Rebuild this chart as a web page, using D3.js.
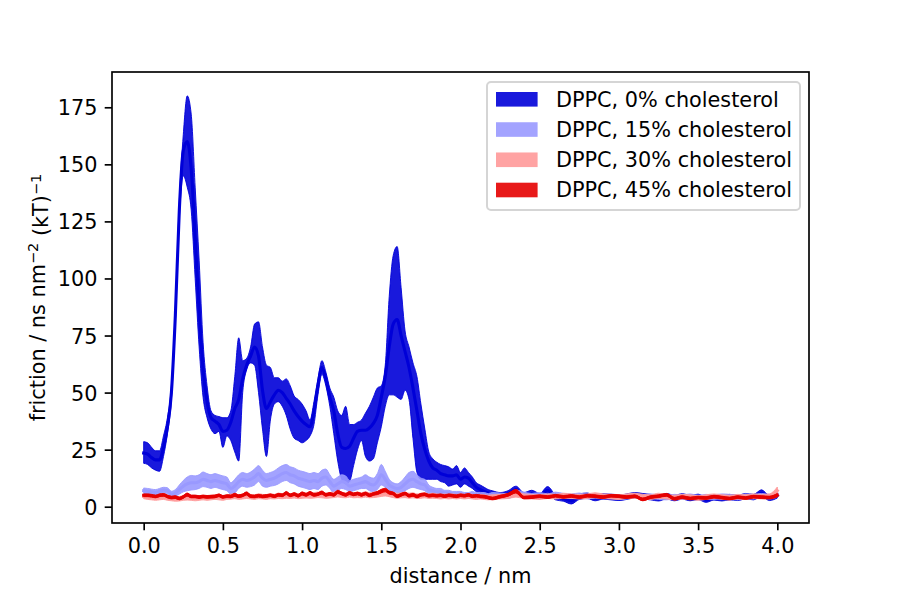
<!DOCTYPE html>
<html>
<head>
<meta charset="utf-8">
<script src="https://cdn.jsdelivr.net/npm/d3@7"></script>
<style>
  body { margin: 0; background: #fff; }
  text { font-family: "DejaVu Sans", sans-serif; }
</style>
</head>
<body>
<script>
// distance grid (nm)
var distance = [
  0, 0.025, 0.05, 0.075, 0.1, 0.125, 0.15, 0.175, 0.2, 0.225,
  0.25, 0.275, 0.3, 0.325, 0.35, 0.375, 0.4, 0.425, 0.45, 0.475,
  0.5, 0.525, 0.55, 0.575, 0.6, 0.625, 0.65, 0.675, 0.7, 0.725,
  0.75, 0.775, 0.8, 0.825, 0.85, 0.875, 0.9, 0.925, 0.95, 0.975,
  1.0, 1.025, 1.05, 1.075, 1.1, 1.125, 1.15, 1.175, 1.2, 1.225,
  1.25, 1.275, 1.3, 1.325, 1.35, 1.375, 1.4, 1.425, 1.45, 1.475,
  1.5, 1.525, 1.55, 1.575, 1.6, 1.625, 1.65, 1.675, 1.7, 1.725,
  1.75, 1.775, 1.8, 1.825, 1.85, 1.875, 1.9, 1.925, 1.95, 1.975,
  2.0, 2.025, 2.05, 2.075, 2.1, 2.125, 2.15, 2.175, 2.2,
  2.25, 2.3, 2.35, 2.4, 2.45, 2.5, 2.55, 2.6, 2.65, 2.7,
  2.75, 2.8, 2.85, 2.9, 2.95, 3.0, 3.05, 3.1, 3.15, 3.2,
  3.25, 3.3, 3.35, 3.4, 3.45, 3.5, 3.55, 3.6, 3.65, 3.7,
  3.75, 3.8, 3.85, 3.9, 3.95, 4.0
];

// DPPC, 0% cholesterol: mean with lower / upper band
var mean0 = [
  23.5, 23, 21.5, 20.5, 20.5, 26, 35, 50, 84, 130,
  156, 160, 148, 118, 86, 60, 46, 39, 37.5, 36,
  33, 33.5, 37, 43, 47, 56, 62, 66, 70, 66,
  51, 43, 46, 49, 51, 50, 47.5, 45, 42, 39.5,
  37.5, 36, 35, 42, 53, 61, 56, 48, 42, 32,
  26, 25.5, 26.5, 30, 33, 33.5, 33.5, 34.5, 36.5, 40,
  48, 57, 70, 80, 82, 75, 68, 61, 52, 42,
  32, 25, 20, 17, 16, 14.5, 14, 13.5, 13.5, 14,
  12, 13, 12.5, 10.5, 8.5, 7.5, 6.7, 6, 5.5,
  5, 5.6, 7.5, 5, 5.8, 4.6, 7.2, 4.2, 3.6, 2.5,
  4.4, 4.8, 3.8, 4.5, 4.2, 3.8, 4.4, 5, 4.6, 4.2,
  3.6, 4.6, 3.8, 4.5, 3.8, 4.3, 3, 4, 3.6, 4.2,
  3.8, 4.6, 4.2, 6, 3.8, 5
];
var lower0 = [
  19, 18.5, 17, 16, 15.5, 22, 32, 47, 81, 126,
  145, 140, 130, 100, 70, 48, 39, 34, 32, 33,
  26, 31, 29, 24, 20, 50, 60, 63, 62, 50,
  34, 22, 38, 45, 46, 44, 40, 34, 30, 29,
  28, 29, 31, 36, 49, 58, 53, 44, 32, 20,
  12, 10, 11, 18, 25, 29, 22, 20, 21, 28,
  35, 44, 49, 49, 48, 47, 51, 47, 30, 15,
  12, 12, 12, 12, 12, 11, 10.5, 9, 9.5, 10,
  8.5, 10, 9, 8, 6.5, 5.5, 5, 4.5, 4,
  3.8, 4.2, 5.8, 3.8, 4.4, 3.4, 5.6, 3, 2.4, 1.2,
  3.2, 3.6, 2.6, 3.3, 3, 2.7, 3.2, 3.8, 3.4, 3,
  2.5, 3.4, 2.6, 3.3, 2.6, 3.1, 1.9, 2.9, 2.5, 3,
  2.7, 3.4, 3, 4.6, 2.7, 3.8
];
var upper0 = [
  28.5, 28, 26, 24.5, 24.5, 31, 39, 53, 87, 134,
  163, 180, 172, 140, 108, 72, 53, 42, 40, 39.5,
  39, 39, 42, 57, 74, 64, 65, 70, 80, 81,
  70, 62, 61, 56.5, 56.5, 55, 56, 53, 48.5, 47,
  45, 42, 38, 46, 56, 64, 59, 52, 48, 42,
  40, 44, 36, 36, 37, 38, 41, 44, 48, 52,
  53, 62, 92, 110, 114, 96, 77, 70, 63, 57,
  45, 34, 24, 21, 19.5, 18.5, 18, 17.5, 16.5, 18,
  15, 17, 15, 13, 10.5, 9.5, 8.5, 7.5, 7,
  6.2, 7, 9, 6.2, 7.2, 5.8, 8.8, 5.4, 4.8, 3.8,
  5.6, 6, 5, 5.7, 5.4, 5, 5.6, 6.2, 5.8, 5.4,
  4.8, 5.8, 5, 5.7, 5, 5.5, 4.2, 5.2, 4.8, 5.4,
  5, 5.8, 5.4, 7.4, 5, 6.2
];

// DPPC, 15% cholesterol: mean and spread
var mean15 = [
  7, 6.8, 6.5, 6.3, 6.8, 7.3, 7, 5.5, 6, 7.5,
  9, 10, 10.5, 10.5, 11, 12, 11.5, 11, 11.5, 11,
  10.5, 10, 8, 9, 11, 12, 11.5, 12, 13, 14.5,
  12.5, 11.5, 12, 12.5, 13.5, 14.5, 15, 14, 13.5, 12.5,
  12, 11.5, 11, 11.5, 11, 12.5, 13, 11, 9, 10,
  11, 10.5, 9, 9.5, 10, 10.5, 11, 10, 9.5, 11,
  14, 12, 9.5, 8.5, 8, 8.5, 10, 11.5, 12, 11,
  10, 9.5, 7.5, 7, 6.5, 6.5, 6, 6, 5.5, 5.5,
  5.5, 5, 5, 5.5, 5, 5, 5, 4.5, 5,
  5, 4.6, 6, 5.4, 4.8, 5.2, 4.6, 5.4, 4.8, 4.6,
  5, 4.4, 4.8, 4.4, 4.6, 4.2, 4.4, 4.8, 4.2, 4.6,
  4.2, 4, 4.4, 4.2, 4.6, 4, 4.4, 4.2, 4.6, 4.4,
  4, 4.6, 4.4, 4.8, 4.4, 5.4
];
var spread15 = [
  1.2, 1.2, 1.2, 1.2, 1.2, 1.2, 1.3, 1.3, 1.5, 2,
  2.5, 3, 3.2, 3, 3, 3.2, 3, 3, 3, 3,
  3, 3, 2.5, 3, 3, 3, 3, 3.2, 3.5, 3.5,
  3.5, 3, 3, 3.2, 3.5, 3.5, 3.5, 3.5, 3.5, 3.5,
  3.5, 3.5, 3.5, 3.5, 3.5, 3.5, 3.5, 3, 3, 3,
  3, 3, 2.5, 2.5, 2.5, 2.5, 3, 3, 3, 3.5,
  4.5, 3.5, 2.5, 2, 2, 2.5, 3, 3.5, 3.5, 3,
  2.5, 2.5, 2, 1.5, 1.5, 1.5, 1.2, 1.2, 1.2, 1.2,
  1.2, 1.2, 1.2, 1.2, 1.2, 1.2, 1.2, 1.2, 1.2,
  1, 1, 1.3, 1, 1, 1, 1, 1, 1, 1,
  1, 1, 1, 1, 1, 1, 1, 1, 1, 1,
  1, 1, 1, 1, 1, 1, 1, 1, 1, 1,
  1, 1, 1, 1, 1, 1.2
];

// DPPC, 30% cholesterol
var mean30 = [
  4.5, 4.2, 4, 3.8, 4, 4.2, 3.8, 3.6, 3.4, 3.5,
  3.8, 4, 3.8, 3.6, 3.8, 4, 3.8, 4, 4.2, 4,
  3.8, 4.2, 4.4, 4.6, 4.2, 4.4, 4.8, 4.4, 4.2, 4.6,
  4.4, 4.2, 4.6, 4.4, 4.8, 4.6, 4.8, 4.6, 5, 4.6,
  4.8, 5, 4.8, 5, 5.2, 5, 4.8, 5, 5.2, 5.6,
  5.2, 5, 5.4, 5, 5.2, 5, 5.4, 5, 5.2, 5.4,
  5.8, 6, 5.6, 5.2, 4.8, 5, 5.2, 4.8, 5, 4.6,
  4.8, 5, 4.6, 4.8, 4.6, 4.4, 4.6, 4.4, 4.6, 4.4,
  4.6, 4.4, 4.6, 4.4, 4.2, 4.4, 4.2, 4, 4.2,
  4.4, 4.6, 5.4, 4.6, 4.4, 4.2, 4.6, 4.4, 4.8, 4.6,
  4.4, 4.6, 5, 4.6, 4.4, 4.2, 4.6, 4.8, 4.4, 4.2,
  4.8, 4.4, 4, 4.4, 4.2, 3.8, 4.2, 4.6, 4.2, 4,
  4.4, 4.2, 4.6, 4.4, 4.6, 7
];
var spread30 = [
  1, 1, 1, 1, 1, 1, 1, 1, 1, 1,
  1, 1.1, 1, 1, 1, 1, 1, 1, 1, 1,
  1, 1, 1.1, 1.1, 1, 1, 1.2, 1, 1, 1.1,
  1, 1, 1.1, 1, 1.2, 1.1, 1.1, 1, 1.2, 1.1,
  1.1, 1.2, 1.1, 1.2, 1.2, 1.1, 1.1, 1.2, 1.2, 1.3,
  1.2, 1.1, 1.2, 1.1, 1.2, 1.1, 1.2, 1.1, 1.2, 1.2,
  1.3, 1.3, 1.2, 1.2, 1.1, 1.1, 1.2, 1.1, 1.1, 1,
  1.1, 1.1, 1, 1.1, 1, 1, 1, 1, 1, 1,
  1, 1, 1, 1, 1, 1, 1, 1, 1,
  1, 1, 1.2, 1, 1, 1, 1, 1, 1.1, 1,
  1, 1, 1.1, 1, 1, 1, 1, 1.1, 1, 1,
  1.1, 1, 1, 1, 1, 1, 1, 1, 1, 1,
  1, 1, 1, 1, 1, 1.6
];

// DPPC, 45% cholesterol
var mean45 = [
  5, 5, 4.8, 4.5, 5, 5.2, 4.5, 4, 4.2, 3.6,
  4.3, 5.3, 4.5, 4.5, 4.2, 4.5, 4.3, 4.4, 4.5, 5,
  4.3, 4.6, 4.5, 5.2, 4.6, 5, 5.8, 4.6, 4.5, 4.8,
  4.5, 4.7, 5, 4.6, 5.2, 5, 6, 5, 5.5, 4.8,
  5.8, 5.2, 6, 5.2, 5.5, 6.2, 5.2, 5.6, 5.2, 6.5,
  5.8, 5.2, 6, 5.4, 5.8, 5.2, 5.8, 5, 5.6, 6,
  6.8, 7.3, 6.2, 5.8, 4.6, 5.2, 5.8, 4.8, 5.2, 4.5,
  5.2, 5.4, 4.8, 5, 4.8, 5, 4.6, 5, 4.8, 4.6,
  5, 4.8, 5.2, 4.6, 4.8, 4.5, 4.4, 4, 3.6,
  4.4, 5.2, 6.8, 4, 4.2, 4.6, 4.2, 4.8, 4.3, 4.7,
  4.2, 4.8, 4.6, 4.2, 4.8, 4.6, 4.2, 4.6, 3.2, 4.2,
  4.6, 5.2, 3.5, 4.2, 3.6, 4, 3.8, 4.4, 4, 3.6,
  4.2, 3.8, 4.4, 4.2, 4, 5
];
var spread45 = [
  0.6, 0.6, 0.6, 0.6, 0.6, 0.6, 0.6, 0.6, 0.6, 0.6,
  0.6, 0.7, 0.6, 0.6, 0.6, 0.6, 0.6, 0.6, 0.6, 0.6,
  0.6, 0.6, 0.6, 0.7, 0.6, 0.6, 0.7, 0.6, 0.6, 0.6,
  0.6, 0.6, 0.6, 0.6, 0.6, 0.6, 0.7, 0.6, 0.6, 0.6,
  0.7, 0.6, 0.7, 0.6, 0.6, 0.7, 0.6, 0.6, 0.6, 0.7,
  0.6, 0.6, 0.7, 0.6, 0.6, 0.6, 0.6, 0.6, 0.6, 0.7,
  0.8, 0.8, 0.7, 0.6, 0.6, 0.6, 0.6, 0.6, 0.6, 0.6,
  0.6, 0.6, 0.6, 0.6, 0.6, 0.6, 0.6, 0.6, 0.6, 0.6,
  0.6, 0.6, 0.6, 0.6, 0.6, 0.6, 0.6, 0.6, 0.6,
  0.6, 0.6, 0.8, 0.6, 0.6, 0.6, 0.6, 0.6, 0.6, 0.6,
  0.6, 0.6, 0.6, 0.6, 0.6, 0.6, 0.6, 0.6, 0.6, 0.6,
  0.6, 0.6, 0.6, 0.6, 0.6, 0.6, 0.6, 0.6, 0.6, 0.6,
  0.6, 0.6, 0.6, 0.6, 0.6, 0.8
];

var labels = ["DPPC, 0% cholesterol", "DPPC, 15% cholesterol", "DPPC, 30% cholesterol", "DPPC, 45% cholesterol"];
var colors = ["rgb(0,0,216)", "rgb(153,153,255)", "rgb(255,153,153)", "rgb(229,0,0)"];
var xTicks = [0, 0.5, 1, 1.5, 2, 2.5, 3, 3.5, 4];
var yTicks = [0, 25, 50, 75, 100, 125, 150, 175];

var series = [
  {mean: mean0, lo: lower0, hi: upper0},
  {mean: mean15, lo: mean15.map(function(v, i) { return v - spread15[i]; }), hi: mean15.map(function(v, i) { return v + spread15[i]; })},
  {mean: mean30, lo: mean30.map(function(v, i) { return v - spread30[i]; }), hi: mean30.map(function(v, i) { return v + spread30[i]; })},
  {mean: mean45, lo: mean45.map(function(v, i) { return v - spread45[i]; }), hi: mean45.map(function(v, i) { return v + spread45[i]; })}
];

var W = 900, H = 600;
var axL = 112, axR = 809, axT = 72, axB = 523;
var fs = 20.8, tickLen = 7.3, pad = 7.3;

var svg = d3.select("body").append("svg")
    .attr("width", W)
    .attr("height", H);

var x = d3.scaleLinear().domain([-0.2, 4.2]).range([axL, axR]);
var y = d3.scaleLinear().domain([-7.14, 190.46]).range([axB, axT]);

var area = d3.area()
    .x(function(d) { return x(d.x); })
    .y0(function(d) { return y(d.lo); })
    .y1(function(d) { return y(d.hi); })
    .curve(d3.curveMonotoneX);

var line = d3.line()
    .x(function(d) { return x(d.x); })
    .y(function(d) { return y(d.m); })
    .curve(d3.curveMonotoneX);

var plot = svg.append("g");

series.forEach(function(s, k) {
  var pts = distance.map(function(dx, i) {
    return {x: dx, m: s.mean[i], lo: s.lo[i], hi: s.hi[i]};
  });
  plot.append("path")
      .datum(pts)
      .attr("d", area)
      .attr("fill", colors[k])
      .attr("fill-opacity", 0.9)
      .attr("stroke", colors[k])
      .attr("stroke-opacity", 0.9)
      .attr("stroke-width", 1);
  plot.append("path")
      .datum(pts)
      .attr("d", line)
      .attr("fill", "none")
      .attr("stroke", colors[k])
      .attr("stroke-width", 3.1)
      .attr("stroke-linejoin", "round")
      .attr("stroke-linecap", "square");
});

// frame
svg.append("rect")
    .attr("x", axL).attr("y", axT)
    .attr("width", axR - axL).attr("height", axB - axT)
    .attr("fill", "none")
    .attr("stroke", "#000")
    .attr("stroke-width", 1.67);

var xAxis = d3.axisBottom(x).tickValues(xTicks).tickSize(tickLen).tickPadding(pad)
    .tickFormat(d3.format(".1f"));
var yAxis = d3.axisLeft(y).tickValues(yTicks).tickSize(tickLen).tickPadding(pad)
    .tickFormat(d3.format("d"));

var gx = svg.append("g")
    .attr("transform", "translate(0," + axB + ")")
    .call(xAxis);
var gy = svg.append("g")
    .attr("transform", "translate(" + axL + ",0)")
    .call(yAxis);

[gx, gy].forEach(function(g) {
  g.select(".domain").remove();
  g.selectAll(".tick line").attr("stroke", "#000").attr("stroke-width", 1.67);
  g.selectAll(".tick text")
      .attr("fill", "#000")
      .style("font-family", "DejaVu Sans")
      .style("font-size", fs + "px");
});
gx.selectAll(".tick text").attr("dy", "0.76em");
gy.selectAll(".tick text").attr("dy", "0.36em");

// axis labels
svg.append("text")
    .attr("x", (axL + axR) / 2)
    .attr("y", 583)
    .attr("text-anchor", "middle")
    .style("font-size", fs + "px")
    .text("distance / nm");

var yl = svg.append("text")
    .attr("transform", "translate(45," + ((axT + axB) / 2) + ") rotate(-90)")
    .attr("text-anchor", "middle")
    .style("font-size", fs + "px");
yl.append("tspan").text("friction / ns nm");
yl.append("tspan").attr("dy", "-0.45em").style("font-size", "14.5px").text("\u22122");
yl.append("tspan").attr("dy", "0.45em").text(" (kT)");
yl.append("tspan").attr("dy", "-0.45em").style("font-size", "14.5px").text("\u22121");

// legend
var lg = svg.append("g");
lg.append("rect")
    .attr("x", 487).attr("y", 82)
    .attr("width", 313).attr("height", 128)
    .attr("rx", 4).attr("ry", 4)
    .attr("fill", "#fff")
    .attr("fill-opacity", 0.8)
    .attr("stroke", "#d5d5d5")
    .attr("stroke-width", 2);

var rowY = d3.scalePoint().domain(d3.range(labels.length)).range([99.3, 190]);

labels.forEach(function(lab, k) {
  lg.append("rect")
      .attr("x", 496).attr("y", rowY(k) - 7.3)
      .attr("width", 41.6).attr("height", 14.6)
      .attr("fill", colors[k])
      .attr("fill-opacity", 0.9);
  lg.append("text")
      .attr("x", 556).attr("y", rowY(k))
      .attr("dy", "0.36em")
      .style("font-size", fs + "px")
      .text(lab);
});
</script>
</body>
</html>
